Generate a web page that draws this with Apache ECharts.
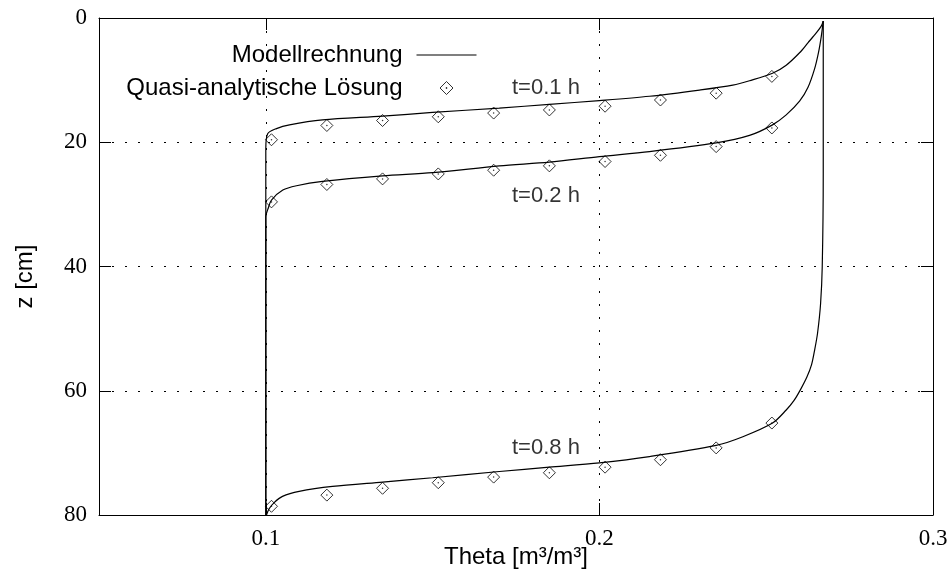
<!DOCTYPE html>
<html>
<head>
<meta charset="utf-8">
<script src="https://cdn.jsdelivr.net/npm/echarts@6/dist/echarts.min.js"></script>
<style>html,body{margin:0;padding:0;background:#fff;}#c{width:950px;height:572px;}</style>
</head>
<body>
<div id="c"></div>
<script>
// ---- data ----
const xTickValues = [0.1, 0.2, 0.3];
const yTickValues = [0, 20, 40, 60, 80];

// Model curves (theta, z)
const thetaModel01 = [0.1, 0.1, 0.1, 0.1006, 0.1032, 0.1071, 0.117, 0.135, 0.15, 0.17, 0.185, 0.2, 0.215, 0.23, 0.24, 0.245, 0.2519, 0.256, 0.26, 0.2625, 0.265, 0.2665, 0.2671];
const zModel01     = [80,  40,  21,  18.6,   17.8,   17.2,   16.4,  15.8,  15.2, 14.5, 13.9,  13.3, 12.6,  11.6, 10.8, 10.1,  8.9,    7.6,   5.6,  4.0,    2.4,   1.3,    0.5];

const thetaModel02 = [0.1, 0.1, 0.1, 0.1008, 0.1017, 0.1051, 0.1092, 0.117, 0.135, 0.15, 0.17, 0.185, 0.2, 0.215, 0.235, 0.245, 0.2519, 0.256, 0.26, 0.2625, 0.2645, 0.2657, 0.2665, 0.2671];
const zModel02     = [80,  50,  32,  30.5,   29.3,   27.7,   27.0,   26.3,  25.4,  24.9, 23.8, 23.2,  22.3, 21.5,  20.1,  18.9,  17.2,   15.6,  13.4, 11.2,   8.2,    5.5,    3.0,    0.5];

const thetaModel08 = [0.2671, 0.2671, 0.2668, 0.2663, 0.2654, 0.2645, 0.2636, 0.2622, 0.2602, 0.2583, 0.256, 0.2519, 0.243, 0.235, 0.215, 0.2, 0.185, 0.17, 0.15, 0.135, 0.12, 0.11, 0.105, 0.1025, 0.101, 0.1002];
const zModel08     = [0.5,    25,     40,     46,     50.7,   53.5,   55.8,   57.8,   59.9,   61.6,   63.1,  65.2,   67.4,  68.8,  70.6,  71.6, 72.3, 73.0, 74.0, 74.7,  75.4, 76.2, 77.0,  78.0,   79.0,  80];

// Quasi-analytical solution (diamonds)
const thetaAnalytic = [0.1017, 0.1183, 0.135, 0.1517, 0.1683, 0.185, 0.2017, 0.2183, 0.235, 0.2517];
const zAnalytic01 = [19.6, 17.3, 16.5, 15.9, 15.3, 14.8, 14.2, 13.2, 12.1, 9.4];
const zAnalytic02 = [29.6, 26.8, 25.9, 25.1, 24.5, 23.8, 23.1, 22.1, 20.7, 17.7];
const zAnalytic08 = [78.6, 76.8, 75.7, 74.8, 73.9, 73.2, 72.3, 71.1, 69.2, 65.2];

// Curve annotations
const labelTexts = ['t=0.1 h', 't=0.2 h', 't=0.8 h'];
const labelTheta = [0.1738, 0.1738, 0.1738];
const labelZ = [11.3, 28.6, 69.2];

const seriesModelName = 'Modellrechnung';
const seriesAnalyticName = 'Quasi-analytische Lösung';

// ---- build ----
const zip = (a, b) => a.map((v, i) => [v, b[i]]);
const analyticPts = [].concat(zip(thetaAnalytic, zAnalytic01), zip(thetaAnalytic, zAnalytic02), zip(thetaAnalytic, zAnalytic08));

const SANS = '"Liberation Sans", Arial, sans-serif';
const SERIF = '"Liberation Serif", "Times New Roman", serif';
const gridLine = { show: true, lineStyle: { color: '#000', width: 1, type: [2, 11] } };

const lineSeries = (th, z) => ({
  type: 'line', name: seriesModelName, data: zip(th, z), symbol: 'none',
  smooth: 0.3, lineStyle: { color: '#000', width: 1.2 }, itemStyle: { color: '#000' },
  xAxisIndex: 0, yAxisIndex: 0, z: 3
});

const chart = echarts.init(document.getElementById('c'), null, { renderer: 'canvas' });
chart.setOption({
  animation: false,
  backgroundColor: '#fff',
  grid: { left: 99, right: 17, top: 18, bottom: 57, show: false, containLabel: false, outerBoundsMode: 'none' },
  legend: {
    data: [
      { name: seriesModelName, icon: 'path://M0,0 L60,0 L60,1.2 L0,1.2 Z' },
      { name: seriesAnalyticName,
        icon: 'path://M0,0 M60,14 M30,0.5 L36.5,7 L30,13.5 L23.5,7 Z M29.6,6.6 L30.4,6.6 L30.4,7.4 L29.6,7.4 Z',
        itemStyle: { color: 'rgba(255,255,255,0)', borderColor: '#000', borderWidth: 1 } }
    ],
    orient: 'vertical', align: 'right', right: 468, top: 38,
    itemWidth: 60, itemHeight: 14, itemGap: 9, symbolKeepAspect: true,
    textStyle: { fontFamily: SANS, fontSize: 24, color: '#000', padding: [0, 9, 0, 0] },
    selectedMode: false
  },
  xAxis: [{
    type: 'value', min: 0.05, max: 0.3, position: 'bottom',
    name: 'Theta [m³/m³]', nameLocation: 'middle', nameGap: 30, nameMoveOverlap: false,
    nameTextStyle: { fontFamily: SANS, fontSize: 24, color: '#000' },
    axisLine: { show: true, onZero: false, lineStyle: { color: '#000', width: 1 } },
    axisTick: { show: true, inside: true, length: 12, customValues: xTickValues, lineStyle: { color: '#000' } },
    axisLabel: { show: true, customValues: xTickValues, margin: 12, fontFamily: SERIF, fontSize: 23, color: '#000', formatter: v => String(Math.round(v * 10) / 10) },
    splitLine: gridLine
  }, {
    type: 'value', min: 0.05, max: 0.3, position: 'top',
    axisLine: { show: true, onZero: false, lineStyle: { color: '#000', width: 1 } },
    axisTick: { show: true, inside: true, length: 12, customValues: xTickValues, lineStyle: { color: '#000' } },
    axisLabel: { show: false }, splitLine: { show: false }
  }],
  yAxis: [{
    type: 'value', min: 0, max: 80, interval: 20, inverse: true, position: 'left',
    name: 'z [cm]', nameLocation: 'middle', nameGap: 62, nameMoveOverlap: false,
    nameTextStyle: { fontFamily: SANS, fontSize: 24, color: '#000', padding: [0, 20, 0, 0] },
    axisLine: { show: true, onZero: false, lineStyle: { color: '#000', width: 1 } },
    axisTick: { show: true, inside: true, length: 12, lineStyle: { color: '#000' } },
    axisLabel: { show: true, margin: 12, fontFamily: SERIF, fontSize: 23, color: '#000' },
    splitLine: gridLine
  }, {
    type: 'value', min: 0, max: 80, interval: 20, inverse: true, position: 'right',
    axisLine: { show: true, onZero: false, lineStyle: { color: '#000', width: 1 } },
    axisTick: { show: true, inside: true, length: 12, lineStyle: { color: '#000' } },
    axisLabel: { show: false }, splitLine: { show: false }
  }],
  series: [
    lineSeries(thetaModel01, zModel01),
    lineSeries(thetaModel02, zModel02),
    lineSeries(thetaModel08, zModel08),
    {
      type: 'scatter', name: seriesAnalyticName, data: analyticPts,
      symbol: 'diamond', symbolSize: 12,
      itemStyle: { color: 'rgba(255,255,255,0)', borderColor: '#000', borderWidth: 1 },
      z: 4
    },
    {
      type: 'scatter', name: 'centre', data: analyticPts, symbol: 'circle', symbolSize: 1.5,
      itemStyle: { color: '#000' }, silent: true, z: 5
    },
    {
      type: 'scatter', name: 'labels', symbolSize: 0, silent: true,
      data: labelTexts.map((t, i) => [labelTheta[i], labelZ[i], t]),
      label: { show: true, position: 'right', distance: 0, formatter: p => p.data[2],
        fontFamily: SANS, fontSize: 22, color: '#000' }
    }
  ]
});
</script>
</body>
</html>
